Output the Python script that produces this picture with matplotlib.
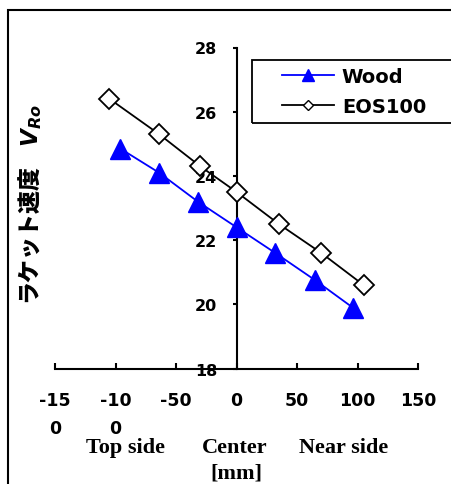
import matplotlib
matplotlib.use("Agg")
import matplotlib.pyplot as plt
from matplotlib.lines import Line2D
from matplotlib.patches import Rectangle

plt.rcParams["font.family"] = ["DejaVu Sans"]
plt.rcParams["mathtext.fontset"] = "custom"
plt.rcParams["mathtext.it"] = "DejaVu Sans:italic:bold"
plt.rcParams["mathtext.rm"] = "DejaVu Sans:bold"

# racket speed along the face, measured from the center
pos_wood = [-96, -64, -32, 0, 32, 65, 96]
v_wood = [24.85, 24.1, 23.2, 22.4, 21.6, 20.75, 19.9]
pos_eos = [-105, -64, -30, 0, 35, 70, 105]
v_eos = [26.4, 25.3, 24.3, 23.5, 22.5, 21.6, 20.6]

x_ticks = [-150, -100, -50, 0, 50, 100, 150]
x_tick_labels = ["-15\n0", "-10\n0", "-50", "0", "50", "100", "150"]
y_ticks = [18, 20, 22, 24, 26, 28]

fig = plt.figure(figsize=(4.51, 4.85), dpi=100)
ax = fig.add_axes([0.122, 0.2381, 0.8049, 0.6619])

ax.plot(pos_wood, v_wood, color="#0000FF", lw=1.3, marker="^", ms=14.5,
        mfc="#0000FF", mec="#0000FF", zorder=3)
ax.plot(pos_eos, v_eos, color="black", lw=1.3, marker="D", ms=10,
        mfc="white", mec="black", mew=1.3, zorder=4)

ax.set_xlim(-150, 150)
ax.set_ylim(18, 28)
ax.spines["left"].set_position(("data", 0))
ax.spines["top"].set_visible(False)
ax.spines["right"].set_visible(False)
for s in ("left", "bottom"):
    ax.spines[s].set_linewidth(1.5)

ax.set_xticks(x_ticks)
ax.set_xticklabels(x_tick_labels, fontsize=12.5, fontweight="bold",
                   linespacing=1.75)
ax.set_yticks(y_ticks)
ax.set_yticklabels([str(v) for v in y_ticks], fontsize=11.5, fontweight="bold")
ax.tick_params(axis="x", direction="in", length=4, width=1.5, pad=16)
ax.tick_params(axis="y", direction="out", length=3, width=1.5, pad=11)

# legend: frame drawn separately so it can run past the right edge
fig.patches.append(Rectangle((0.5588, 0.7443), 0.5, 0.1299, transform=fig.transFigure,
                             fill=False, lw=1.3, ec="black", clip_on=False))
handles = [
    Line2D([], [], color="#0000FF", lw=1.3, marker="^", ms=9, mfc="#0000FF", mec="#0000FF"),
    Line2D([], [], color="black", lw=1.3, marker="D", ms=5.5, mfc="white", mec="black"),
]
fig.legend(handles, ["Wood", "EOS100"], loc="center left",
           bbox_to_anchor=(0.6253, 0.8093), frameon=False, borderpad=0,
           borderaxespad=0, handlelength=2.68, handletextpad=0.4,
           labelspacing=0.55, prop={"weight": "bold", "size": 14})

fig.text(0.066, 0.579, "ラケット速度    $V_{Ro}$", rotation=90, ha="center", va="center",
         fontsize=16.5, fontweight="heavy", family=["Noto Sans CJK JP", "DejaVu Sans"])

serif = {"family": "Liberation Serif", "weight": "bold", "size": 16}
fig.text(0.278, 0.067, "Top side", ha="center", va="baseline", fontdict=serif)
fig.text(0.520, 0.067, "Center", ha="center", va="baseline", fontdict=serif)
fig.text(0.761, 0.067, "Near side", ha="center", va="baseline", fontdict=serif)
fig.text(0.525, 0.013, "[mm]", ha="center", va="baseline", fontdict=serif)

# outer frame
fig.patches.append(Rectangle((0.0177, -0.1), 1.2, 1.0773, transform=fig.transFigure,
                             fill=False, lw=1.5, ec="black", clip_on=False))

fig.savefig("out.png", dpi=100)
